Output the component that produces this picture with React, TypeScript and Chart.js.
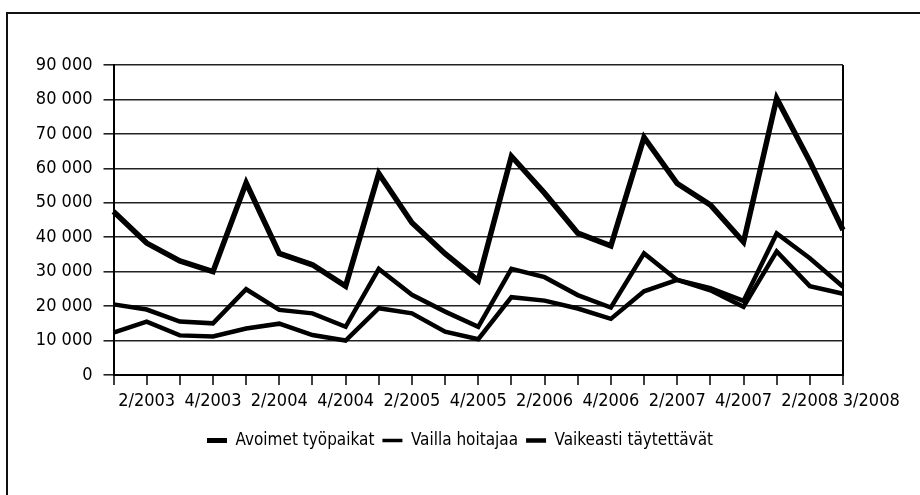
import React, { useEffect, useRef } from "react";
import { Chart, registerables } from "chart.js";

Chart.register(...registerables);

const quarters: string[] = [
  "1/2003", "2/2003", "3/2003", "4/2003",
  "1/2004", "2/2004", "3/2004", "4/2004",
  "1/2005", "2/2005", "3/2005", "4/2005",
  "1/2006", "2/2006", "3/2006", "4/2006",
  "1/2007", "2/2007", "3/2007", "4/2007",
  "1/2008", "2/2008", "3/2008",
];

const seriesNames: string[] = ["Avoimet työpaikat", "Vailla hoitajaa", "Vaikeasti täytettävät"];

const avoimet: number[] = [
  47500, 38300, 33100, 30000, 55800, 35300, 32000, 25800, 58500, 44200, 35200, 27400,
  63500, 52800, 41200, 37500, 69000, 55600, 49400, 38600, 80300, 62000, 42100,
];

const vaillaHoitajaa: number[] = [
  20500, 19000, 15500, 15000, 24900, 18900, 17900, 14000, 30800, 23300, 18400, 14000,
  30800, 28400, 23200, 19600, 35300, 27600, 25200, 21500, 41100, 33900, 25600,
];

const vaikeasti: number[] = [
  12300, 15500, 11500, 11200, 13500, 14900, 11600, 10000, 19400, 17900, 12600, 10400,
  22600, 21600, 19300, 16300, 24300, 27600, 24600, 19800, 35900, 25800, 23600,
];

const yMax = 90000;
const yStep = 10000;

const FONT = '"DejaVu Sans Condensed", "Liberation Sans", sans-serif';

function fmt(v: number): string {
  return String(v).replace(/\B(?=(\d{3})+(?!\d))/g, " ");
}

export default function App() {
  const ref = useRef<HTMLCanvasElement | null>(null);

  useEffect(() => {
    document.body.style.margin = "0";
    const canvas = ref.current;
    if (!canvas) return;
    const lastIdx = quarters.length - 1;
    const lineWidths = [5.5, 4.5, 4.5];
    const legendWidths = [5, 3.5, 4.5];
    const chart = new Chart(canvas, {
      type: "line",
      data: {
        labels: quarters,
        datasets: [avoimet, vaillaHoitajaa, vaikeasti].map((d, i) => ({
          label: seriesNames[i],
          data: d,
          borderColor: "#000",
          backgroundColor: "#000",
          borderWidth: lineWidths[i],
          pointRadius: 0,
          tension: 0,
          fill: false,
          yAxisID: "y",
        })),
      },
      options: {
        animation: false,
        responsive: false,
        devicePixelRatio: 1,
        layout: { padding: { left: 20, right: 20, top: 65, bottom: 36 } },
        font: { family: FONT },
        plugins: {
          tooltip: { enabled: false },
          legend: {
            position: "bottom",
            labels: {
              color: "#000",
              font: { family: FONT, size: 17 },
              usePointStyle: true,
              pointStyleWidth: 20,
              padding: 8,
              generateLabels: (c: any) =>
                Chart.defaults.plugins.legend.labels.generateLabels(c).map((l: any, i: number) => ({
                  ...l,
                  pointStyle: "line",
                  lineWidth: legendWidths[i],
                  strokeStyle: "#000",
                  fillStyle: "#000",
                })),
            },
          },
        },
        scales: {
          x: {
            type: "category",
            offset: false,
            afterFit: (s: any) => {
              s.height = 49;
            },
            border: { display: true, color: "#000", width: 2 },
            grid: {
              display: true,
              drawOnChartArea: true,
              drawTicks: true,
              tickLength: 10,
              lineWidth: 2,
              color: (ctx: any) => (ctx.index === lastIdx ? "#000" : "rgba(0,0,0,0)"),
              tickColor: "#000",
              tickWidth: 1.5,
            },
            ticks: {
              autoSkip: false,
              maxRotation: 0,
              minRotation: 0,
              padding: 6,
              color: "#000",
              font: { family: FONT, size: 18 },
              callback: (_v: any, idx: number) => {
                if (idx === lastIdx) return "\u00A0".repeat(11) + quarters[idx];
                return idx % 2 === 1 ? quarters[idx] : "";
              },
            },
          },
          y: {
            min: 0,
            max: yMax,
            position: "left",
            afterFit: (s: any) => {
              s.width = 93.5;
            },
            border: { display: true, color: "#000", width: 2 },
            grid: {
              color: "#222",
              lineWidth: 1.6,
              tickLength: 10,
              tickColor: "#222",
            },
            ticks: {
              stepSize: yStep,
              padding: 11,
              color: "#000",
              font: { family: FONT, size: 18 },
              callback: (v: any) => fmt(Number(v)),
            },
          },
          y2: {
            position: "right",
            display: true,
            afterFit: (s: any) => {
              s.width = 57;
            },
            border: { display: false },
            grid: { display: false, drawOnChartArea: false },
            ticks: { display: false },
          },
        },
      },
    });
    return () => chart.destroy();
  }, []);

  return (
    <div style={{ position: "relative", width: 920, height: 495, overflow: "hidden", background: "#fff" }}>
      <div
        style={{
          position: "absolute",
          left: 6,
          top: 12,
          width: 1000,
          height: 1000,
          borderTop: "2px solid #111",
          borderLeft: "2px solid #111",
        }}
      />
      <canvas ref={ref} width={920} height={495} style={{ position: "absolute", left: 0, top: 0 }} />
    </div>
  );
}
